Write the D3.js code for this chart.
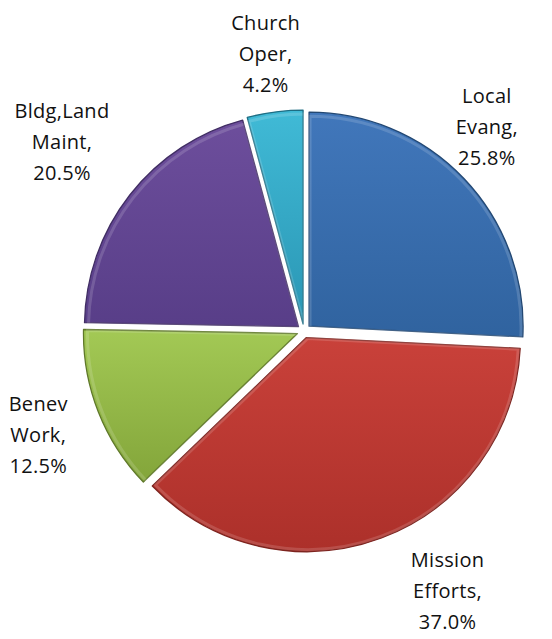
<!DOCTYPE html>
<html>
<head>
<meta charset="UTF-8">
<script src="https://cdn.jsdelivr.net/npm/d3@7"></script>
<style>
  body { margin: 0; background: #fff; }
  text { font-family: "Open Sans", sans-serif; font-size: 20px; fill: #111; letter-spacing: 0.3px; }
</style>
</head>
<body>
<script>
// data
var labels = [["Local", "Evang,"], ["Mission", "Efforts,"], ["Benev", "Work,"], ["Bldg,Land", "Maint,"], ["Church", "Oper,"]];
var values = [25.8, 37.0, 12.5, 20.5, 4.2];
var topColors = ["#4177bb", "#c9413a", "#a3c955", "#6d4e9c", "#40bad6"];
var bottomColors = ["#30639f", "#ac302a", "#83a53a", "#583e88", "#2a96b4"];

var W = 552, H = 639;
var cx = 304, cy = 331, r = 214, explode = 7;

var svg = d3.select("body").append("svg").attr("width", W).attr("height", H);
var defs = svg.append("defs");

// gradients, one per slice
topColors.forEach(function (c, i) {
  var g = defs.append("linearGradient").attr("id", "grad" + i)
    .attr("x1", 0).attr("y1", 0).attr("x2", 0).attr("y2", 1);
  g.append("stop").attr("offset", "0%").attr("stop-color", c);
  g.append("stop").attr("offset", "100%").attr("stop-color", bottomColors[i]);
});

var pie = d3.pie().sort(null).value(function (d) { return d; });
var arcs = pie(values);
var arc = d3.arc().innerRadius(0).outerRadius(r);

var g = svg.append("g").attr("transform", "translate(" + cx + "," + cy + ")");

function mid(d) { return (d.startAngle + d.endAngle) / 2; }

var slice = g.selectAll(".slice").data(arcs).enter().append("g")
  .attr("class", "slice")
  .attr("transform", function (d) {
    var a = mid(d);
    return "translate(" + (Math.sin(a) * explode) + "," + (-Math.cos(a) * explode) + ")";
  });

slice.append("path")
  .attr("d", arc)
  .attr("fill", function (d, i) { return "url(#grad" + i + ")"; })
  .attr("stroke", function (d, i) { return d3.color(bottomColors[i]).darker(0.9); })
  .attr("stroke-width", 1.3)
  .attr("stroke-linejoin", "round");

// soft bevel highlight along the inside edge
slice.append("path")
  .attr("d", d3.arc().innerRadius(0).outerRadius(r - 3))
  .attr("fill", "none")
  .attr("stroke", "#fff")
  .attr("stroke-opacity", 0.15)
  .attr("stroke-width", 3)
  .attr("transform", "translate(1,1)");

// labels: outside end, box touching a circle just outside the pie
var lineH = 31, gap = 20;
var lab = svg.append("g").selectAll(".lab").data(arcs).enter().append("text")
  .attr("class", "lab")
  .attr("text-anchor", "middle");

lab.each(function (d, i) {
  var t = d3.select(this);
  var lines = labels[i].concat([d3.format(".1f")(d.value) + "%"]);
  lines.forEach(function (s, k) {
    t.append("tspan").attr("x", 0).attr("y", k * lineH).text(s);
  });
});

lab.attr("transform", function (d) {
  var w = this.getBBox().width, h = lineH * 3;
  var a = mid(d);
  var rho = explode + r + gap + Math.abs(Math.sin(a)) * w / 2 + Math.abs(Math.cos(a)) * h / 2;
  var yMax = H - 1 - h / 2;
  // a label running off the bottom slides round the pie instead
  if (cy - rho * Math.cos(a) > yMax) {
    var c = (yMax - cy) / rho;
    a = a > Math.PI ? 2 * Math.PI - Math.acos(-c) : Math.PI - Math.acos(c);
  }
  var x = cx + rho * Math.sin(a), y = cy - rho * Math.cos(a);
  x = Math.max(w / 2 + 6, Math.min(W - 34 - w / 2, x));
  y = Math.max(h / 2 + 8, Math.min(yMax, y));
  return "translate(" + x + "," + (y - h / 2 + 22) + ")";
});
</script>
</body>
</html>
